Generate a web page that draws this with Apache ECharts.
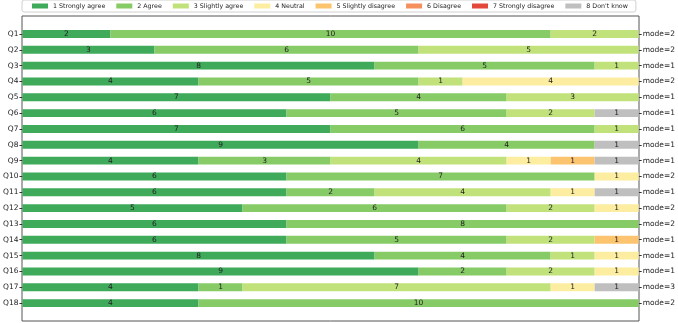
<!DOCTYPE html>
<html>
<head>
<meta charset="utf-8">
<script src="https://cdn.jsdelivr.net/npm/echarts@6/dist/echarts.min.js"></script>
<style>
  html, body { margin: 0; padding: 0; background: #fff; }
  #chart { width: 678px; height: 323px; }
</style>
</head>
<body>
<div id="chart"></div>
<script>
// Questions, top to bottom
const questions = ['Q1', 'Q2', 'Q3', 'Q4', 'Q5', 'Q6', 'Q7', 'Q8', 'Q9',
  'Q10', 'Q11', 'Q12', 'Q13', 'Q14', 'Q15', 'Q16', 'Q17', 'Q18'];

// Most frequent answer per question (right-hand labels)
const modes = [2, 2, 1, 2, 1, 1, 1, 1, 1, 2, 1, 2, 2, 1, 1, 1, 3, 2];

const answerNames = ['1 Strongly agree', '2 Agree', '3 Slightly agree', '4 Neutral',
  '5 Slightly disagree', '6 Disagree', '7 Strongly disagree', "8 Don't know"];

const answerColors = ['#3eaa5a', '#86cb66', '#c1e27a', '#fdeda0',
  '#fcc46f', '#f58f5b', '#e3483a', '#bfbfbf'];

// counts per answer, one value per question (Q1..Q18)
const stronglyAgree    = [2, 3, 8, 4, 7, 6, 7, 9, 4, 6, 6, 5, 6, 6, 8, 9, 4, 4];
const agree            = [10, 6, 5, 5, 4, 5, 6, 4, 3, 7, 2, 6, 8, 5, 4, 2, 1, 10];
const slightlyAgree    = [2, 5, 1, 1, 3, 2, 1, 0, 4, 0, 4, 2, 0, 2, 1, 2, 7, 0];
const neutral          = [0, 0, 0, 4, 0, 0, 0, 0, 1, 1, 1, 1, 0, 0, 1, 1, 1, 0];
const slightlyDisagree = [0, 0, 0, 0, 0, 0, 0, 0, 1, 0, 0, 0, 0, 1, 0, 0, 0, 0];
const disagree         = [0, 0, 0, 0, 0, 0, 0, 0, 0, 0, 0, 0, 0, 0, 0, 0, 0, 0];
const stronglyDisagree = [0, 0, 0, 0, 0, 0, 0, 0, 0, 0, 0, 0, 0, 0, 0, 0, 0, 0];
const dontKnow         = [0, 0, 0, 0, 0, 1, 0, 1, 1, 0, 1, 0, 0, 0, 0, 0, 1, 0];

const answerCounts = [stronglyAgree, agree, slightlyAgree, neutral,
  slightlyDisagree, disagree, stronglyDisagree, dontKnow];

const maxTotal = 14;

const font = 'DejaVu Sans';
const chart = echarts.init(document.getElementById('chart'), null, { renderer: 'canvas' });

const series = answerNames.map((name, i) => ({
  name: name,
  type: 'bar',
  stack: 'total',
  xAxisIndex: 0,
  yAxisIndex: 0,
  barWidth: '50%',
  itemStyle: { color: answerColors[i] },
  label: {
    show: true,
    position: 'inside',
    color: '#222',
    fontFamily: font,
    fontSize: 7.5,
    formatter: p => (p.value > 0 ? String(p.value) : '')
  },
  emphasis: { disabled: true },
  data: answerCounts[i]
}));

chart.setOption({
  animation: false,
  textStyle: { fontFamily: font },
  legend: {
    left: 22,
    top: 0,
    padding: [3, 8, 3, 10],
    itemGap: 11,
    itemWidth: 16,
    itemHeight: 5,
    borderColor: '#d0d0d0',
    borderWidth: 1,
    borderRadius: 2,
    icon: 'rect',
    textStyle: { fontFamily: font, fontSize: 6.3, color: '#222' },
    data: answerNames
  },
  grid: [
    // outer frame
    { left: 22, right: 39, top: 16, bottom: 2, show: true, borderColor: '#555', borderWidth: 1, backgroundColor: 'transparent' },
    // bar area
    { left: 22, right: 39, top: 26, bottom: 12 }
  ],
  xAxis: [
    { type: 'value', gridIndex: 1, min: 0, max: maxTotal, show: false },
    { type: 'value', gridIndex: 0, show: false }
  ],
  yAxis: [
    {
      type: 'category', gridIndex: 1, inverse: true, data: questions,
      axisLine: { show: false },
      axisTick: { show: true, length: 3, alignWithLabel: true, lineStyle: { color: '#333' } },
      axisLabel: { fontFamily: font, fontSize: 7.5, color: '#222', margin: 4 }
    },
    {
      type: 'category', gridIndex: 1, inverse: true, position: 'right',
      data: modes.map(m => 'mode=' + m),
      axisLine: { show: false },
      axisTick: { show: true, length: 3, alignWithLabel: true, lineStyle: { color: '#333' } },
      axisLabel: { fontFamily: font, fontSize: 7.5, color: '#222', margin: 4 }
    },
    { type: 'value', gridIndex: 0, show: false }
  ],
  series: series
});
</script>
</body>
</html>
